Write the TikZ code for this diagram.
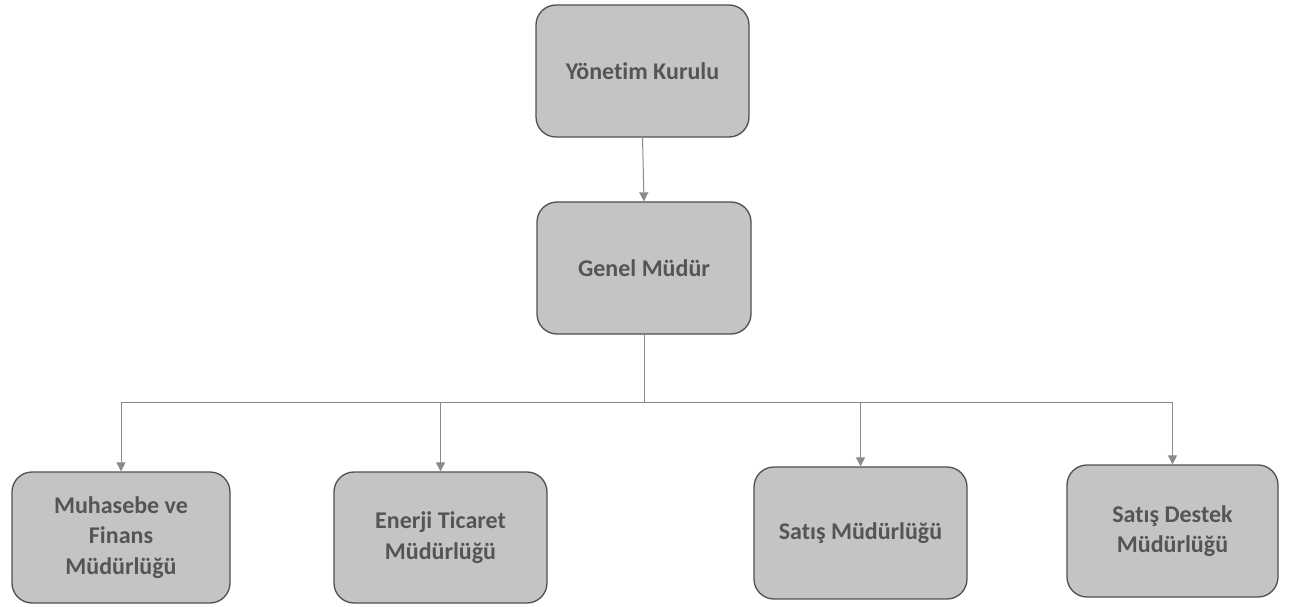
\documentclass[tikz,border=0pt]{standalone}
\usepackage{fontspec}
\setmainfont{Carlito}[Ligatures=NoCommon]
\usetikzlibrary{arrows.meta}
\definecolor{boxfill}{HTML}{C4C4C4}
\definecolor{boxline}{HTML}{505050}
\definecolor{txt}{HTML}{555555}
\definecolor{conn}{HTML}{8A8A8A}
\begin{document}
\begin{tikzpicture}[x=1pt,y=-1pt,
  orgbox/.style={draw=boxline, line width=1.3pt, fill=boxfill, rounded corners=20pt,
    minimum width=#1, text=txt, font=\fontsize{24}{30.5}\selectfont\bfseries, align=center, inner sep=0pt},
  conn/.style={draw=conn, line width=1pt},
  arr/.style={conn, -{Triangle[width=9pt,length=9pt]}}]
\useasboundingbox (0,0) rectangle (1302,607);
\node[orgbox=213pt, minimum height=132pt] (yk) at (642.5,71) {Yönetim Kurulu};
\node[orgbox=214pt, minimum height=132pt] (gm) at (644,268) {Genel Müdür};
\node[orgbox=218pt, minimum height=131pt] (mf) at (121,537.5) {Muhasebe ve\\Finans\\Müdürlüğü};
\node[orgbox=213pt, minimum height=131pt] (et) at (440.5,537.5) {Enerji Ticaret\\Müdürlüğü};
\node[orgbox=213pt, minimum height=132pt] (sm) at (860.5,533) {Satış Müdürlüğü};
\node[orgbox=211pt, minimum height=132pt] (sd) at (1172.5,531) {Satış Destek\\Müdürlüğü};
\coordinate (jn) at (644,402);
\draw[arr] (yk.south) -- (gm.north);
\draw[conn] (gm.south) -- (jn);
\draw[arr] (jn) -| (mf.north);
\draw[arr] (jn) -| (et.north);
\draw[arr] (jn) -| (sm.north);
\draw[arr] (jn) -| (sd.north);
\end{tikzpicture}
\end{document}
